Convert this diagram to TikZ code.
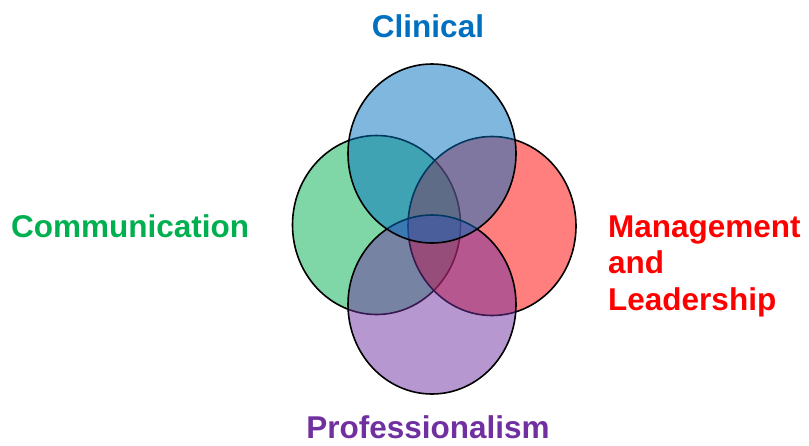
\documentclass[tikz,border=0pt]{standalone}
\usepackage{fontspec}
\setmainfont{Liberation Sans}
\usepackage{tikz}
\usetikzlibrary{
  positioning,
  shapes.geometric,
}
\tikzstyle{venn} = [
  ellipse,
  draw=black,
  line width=1.6pt,
  fill opacity=0.5,
  draw opacity=1,
  inner sep=0pt,
  minimum width=168pt,
  minimum height=179pt,
]
\tikzstyle{label} = [
  font=\fontsize{31.5}{36.5}\selectfont\bfseries,
  inner sep=0pt,
  align=left,
]
\definecolor{clinblue}{RGB}{0, 112, 192}
\definecolor{commgreen}{RGB}{0, 176, 80}
\definecolor{mgmtred}{RGB}{255, 0, 0}
\definecolor{profpurple}{RGB}{112, 48, 160}

\begin{document}
\begin{tikzpicture}[x=1pt, y=-1pt]
      \useasboundingbox (0,0) rectangle (809,445);

      % the four sets, drawn back to front
      \node [venn, fill=commgreen] (communicationset) at (376.5,225) {};
      \node [venn, fill=mgmtred] (managementset) at (492,226) {};
      \node [venn, fill=profpurple] (professionalismset) at (432,304.5) {};
      \node [venn, fill=clinblue] (clinicalset) at (432,153.5) {};

      \node [label, text=clinblue, anchor=base] (clinical) at (428,37)
            {Clinical};
      \node [label, text=commgreen, anchor=base west] (communication) at (11,237)
            {Communication};
      % base of a three-line node sits on its last line
      \node [label, text=mgmtred, anchor=base west] (management) at (608,310)
            {Management\\and\\Leadership};
      \node [label, text=profpurple, anchor=base] (professionalism) at (428,438)
            {Professionalism};
    \end{tikzpicture}
\end{document}
